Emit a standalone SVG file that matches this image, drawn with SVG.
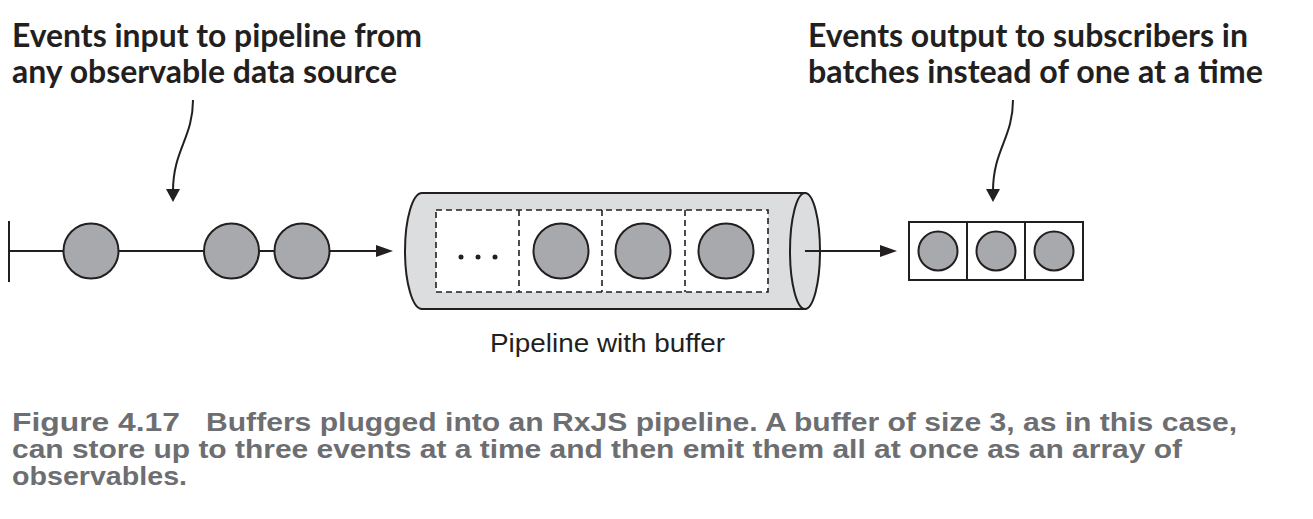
<svg xmlns="http://www.w3.org/2000/svg" width="1313" height="519" viewBox="0 0 1313 519">
<style>
.ln{stroke:#231f20;stroke-width:2;fill:none}
.ev{fill:#a7a9ac;stroke:#231f20;stroke-width:2}
.ah{fill:#231f20}
.hd{font-family:Lato,"Open Sans",sans-serif;font-weight:700;font-size:32px;fill:#231f20}
.lb{font-family:"Liberation Sans",Arial,sans-serif;font-size:26px;fill:#231f20}
.cap{font-family:"Liberation Sans",Arial,sans-serif;font-weight:700;font-size:25px;fill:#6d6e71}
</style>
<rect width="1313" height="519" fill="#ffffff"/>
<g id="label-input">
<text class="hd" x="12" y="47" textLength="410" lengthAdjust="spacingAndGlyphs">Events input to pipeline from</text>
<text class="hd" x="12" y="83" textLength="385" lengthAdjust="spacingAndGlyphs">any observable data source</text>
</g>
<g id="label-output">
<text class="hd" x="808" y="47" textLength="440" lengthAdjust="spacingAndGlyphs">Events output to subscribers in</text>
<text class="hd" x="808" y="83" textLength="455" lengthAdjust="spacingAndGlyphs">batches instead of one at a time</text>
</g>
<g id="connectors">
<path class="ln" d="M193,100 C193,138 173,150 173,191"/>
<polygon class="ah" points="166,189 180,189 173,202"/>
<path class="ln" d="M1013,100 C1013,138 993,150 993,191"/>
<polygon class="ah" points="986,189 1000,189 993,202"/>
<line class="ln" x1="9" y1="221" x2="9" y2="282"/>
<line class="ln" x1="9" y1="251" x2="380" y2="251"/>
<polygon class="ah" points="376,245 393,251 376,257"/>
<line class="ln" x1="805" y1="251" x2="884" y2="251"/>
<polygon class="ah" points="880,245 897,251 880,257"/>
</g>
<g id="input-events">
<circle class="ev" cx="91" cy="251" r="27.5"/>
<circle class="ev" cx="231.5" cy="251" r="27.5"/>
<circle class="ev" cx="302" cy="251" r="27.5"/>
</g>
<g id="pipeline">
<path d="M805,193 L422,193 A17,58 0 0 0 422,309 L805,309 Z" fill="#dcdddf" stroke="#231f20" stroke-width="2"/>
<ellipse cx="805" cy="251" rx="15" ry="58" fill="#dcdddf" stroke="#231f20" stroke-width="2"/>
<line class="ln" x1="805" y1="251" x2="820" y2="251"/>
<rect x="436" y="210" width="332" height="82" fill="#ffffff" stroke="#231f20" stroke-width="1.6" stroke-dasharray="6,4"/>
<line x1="519" y1="210" x2="519" y2="292" stroke="#231f20" stroke-width="1.6" stroke-dasharray="6,4"/>
<line x1="602" y1="210" x2="602" y2="292" stroke="#231f20" stroke-width="1.6" stroke-dasharray="6,4"/>
<line x1="685" y1="210" x2="685" y2="292" stroke="#231f20" stroke-width="1.6" stroke-dasharray="6,4"/>
<circle cx="461" cy="257" r="2.5" fill="#231f20"/>
<circle cx="478" cy="257" r="2.5" fill="#231f20"/>
<circle cx="495" cy="257" r="2.5" fill="#231f20"/>
<circle class="ev" cx="561" cy="251" r="27.5"/>
<circle class="ev" cx="643" cy="251" r="27.5"/>
<circle class="ev" cx="726" cy="251" r="27.5"/>
<text class="lb" x="490" y="352" textLength="235" lengthAdjust="spacingAndGlyphs">Pipeline with buffer</text>
</g>
<g id="output-batch">
<rect x="909" y="222" width="174" height="58" fill="#ffffff" stroke="#231f20" stroke-width="2"/>
<line class="ln" x1="967" y1="222" x2="967" y2="280"/>
<line class="ln" x1="1025" y1="222" x2="1025" y2="280"/>
<circle class="ev" cx="938" cy="251" r="19.5"/>
<circle class="ev" cx="996" cy="251" r="19.5"/>
<circle class="ev" cx="1054" cy="251" r="19.5"/>
</g>
<g id="caption">
<text class="cap" x="12" y="431" textLength="168" lengthAdjust="spacingAndGlyphs">Figure 4.17</text>
<text class="cap" x="206" y="431" textLength="1031" lengthAdjust="spacingAndGlyphs">Buffers plugged into an RxJS pipeline. A buffer of size 3, as in this case,</text>
<text class="cap" x="12" y="458" textLength="1170" lengthAdjust="spacingAndGlyphs">can store up to three events at a time and then emit them all at once as an array of</text>
<text class="cap" x="12" y="485" textLength="175" lengthAdjust="spacingAndGlyphs">observables.</text>
</g>
</svg>
